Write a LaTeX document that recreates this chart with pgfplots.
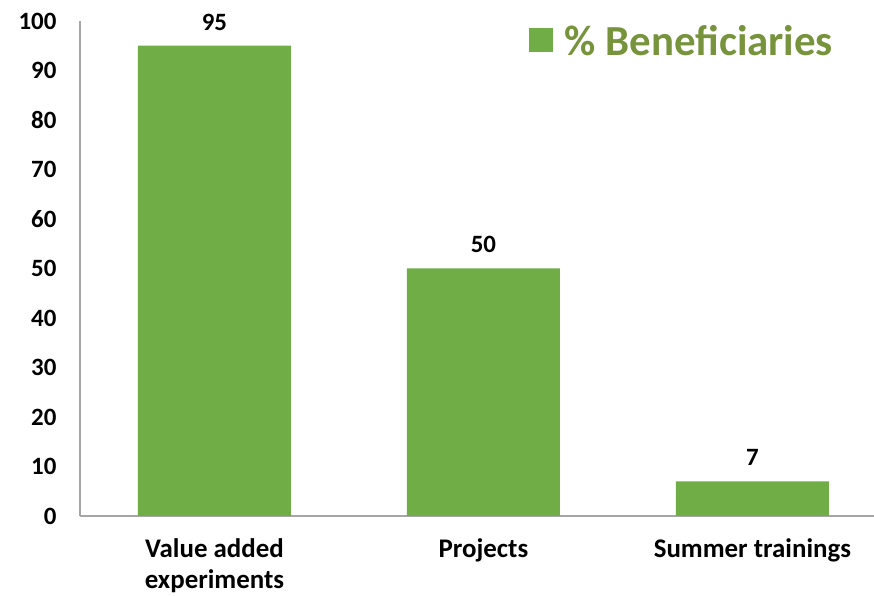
\documentclass[border=0pt]{standalone}
\usepackage{pgfplots}
\pgfplotsset{compat=1.18}
\usepackage{fontspec}
\setmainfont{Carlito}
\definecolor{bargreen}{HTML}{70AD47}
\definecolor{leggreen}{HTML}{77933C}
\definecolor{axgray}{HTML}{A6A6A6}
\begin{document}
\begin{tikzpicture}
\path[use as bounding box] (0,0) rectangle (874bp,596bp);
\begin{axis}[
  at={(80bp,80bp)}, anchor=south west,
  scale only axis, width=794bp, height=495bp,
  xmin=-0.5, xmax=2.452, ymin=0, ymax=100,
  axis x line*=bottom, axis y line*=left,
  axis line style={draw=axgray, line width=1.2pt},
  x axis line style={-}, y axis line style={-},
  xtick={0,1,2},
  xticklabels={{Value added\\experiments},{Projects},{Summer trainings}},
  ytick={0,10,...,100},
  major tick length=0pt,
  /pgf/number format/assume math mode=true,
  tick label style={text=black},
  yticklabel style={font=\fontsize{25}{29}\selectfont\bfseries, xshift=-20bp},
  xticklabel style={font=\fontsize{27}{31}\selectfont\bfseries, align=center, yshift=-19bp},
  ybar, bar width=153bp,
  nodes near coords,
  every node near coord/.append style={font=\fontsize{25}{29}\selectfont\bfseries, text=black, yshift=12bp},
  legend style={at={(0.955,1.0)}, anchor=north east, draw=none, fill=none,
    font=\fontsize{43}{48}\selectfont\bfseries, text=leggreen},
  legend image code/.code={\fill[bargreen] (0bp,-11bp) rectangle (24bp,13bp); \path (34bp,0bp);},
]
\addplot[fill=bargreen, draw=none] coordinates {(0,95) (1,50) (2,7)};
\addlegendentry{\% Beneficiaries}
\end{axis}
\end{tikzpicture}
\end{document}
